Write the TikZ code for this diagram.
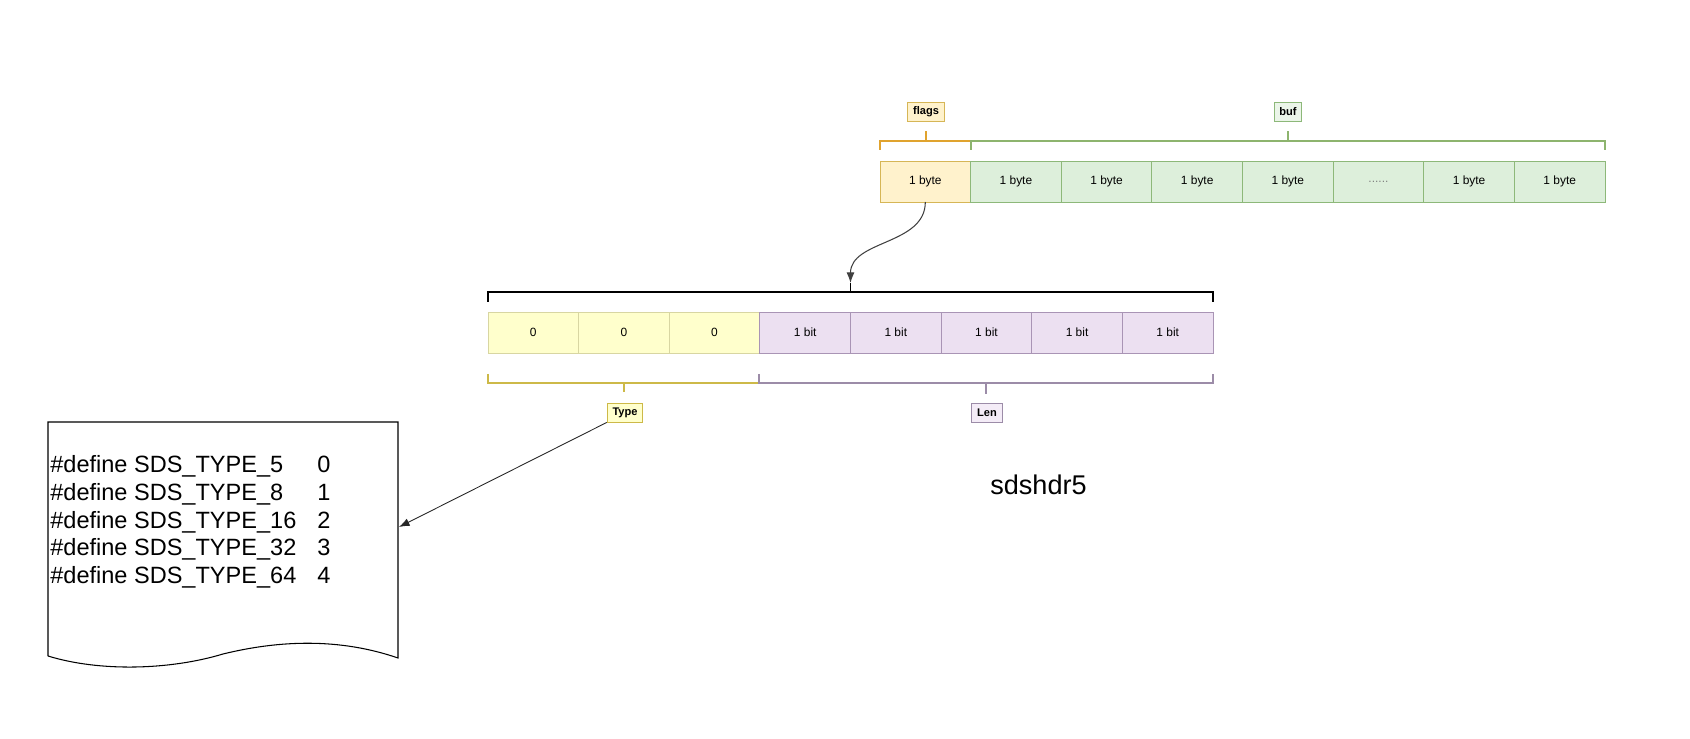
\documentclass[tikz,border=0pt]{standalone}
\usepackage{fontspec}
\setmainfont{Liberation Sans}
\usetikzlibrary{arrows.meta}

\definecolor{flagFill}{HTML}{FFF2CC}
\definecolor{flagLine}{HTML}{D6B656}
\definecolor{flagBr}{HTML}{E0A32E}
\definecolor{bufFill}{HTML}{DDEFDB}
\definecolor{bufLine}{HTML}{8DB879}
\definecolor{bufBr}{HTML}{8DB46E}
\definecolor{zeroFill}{HTML}{FFFFCC}
\definecolor{zeroLine}{HTML}{D8D6A2}
\definecolor{typeBr}{HTML}{CDB948}
\definecolor{bitFill}{HTML}{ECE0F1}
\definecolor{bitLine}{HTML}{A994B5}
\definecolor{lenBr}{HTML}{9C8CA8}

\tikzset{
  cell/.style={draw, line width=0.5pt, minimum width=1.8125cm, minimum height=0.82cm,
    inner sep=0pt, outer sep=0pt, font=\fontsize{6.8}{8}\selectfont},
  flagcell/.style={cell, fill=flagFill, draw=flagLine},
  bufcell/.style={cell, fill=bufFill, draw=bufLine},
  zerocell/.style={cell, fill=zeroFill, draw=zeroLine},
  bitcell/.style={cell, fill=bitFill, draw=bitLine},
  tag/.style={draw, line width=0.5pt, inner xsep=3pt, inner ysep=0pt, minimum height=0.38cm,
    font=\bfseries\fontsize{6.3}{7}\selectfont},
  brace/.style={line width=0.8pt},
  deftext/.style={inner sep=0pt, font=\fontsize{13.4}{16}\selectfont},
}

\begin{document}
\begin{tikzpicture}[x=0.02cm, y=-0.02cm]
    % Fix the page size
    \useasboundingbox (0,0) rectangle (1690,739);

    % Define cell width and row positions
    \def\cellW{90.625}
    \def\topLeft{880}
    \def\topY{181.5}
    \def\botLeft{488}
    \def\botY{332.5}

    % Draw the sdshdr5 bytes
    \node[flagcell] (byte0) at (\topLeft+0.5*\cellW,\topY) {1 byte};
    \foreach \lbl [count=\i] in {1 byte,1 byte,1 byte,1 byte,{\textcolor{gray}{......}},1 byte,1 byte}
        \node[bufcell] (byte\i) at (\topLeft+\i*\cellW+0.5*\cellW,\topY) {\lbl};

    % Draw flags and buf brackets
    \draw[brace, flagBr] (880,150) -- (880,141) -- (971,141);
    \draw[brace, flagBr] (926,141) -- (926,131);
    \draw[brace, bufBr] (971,150) -- (971,141) -- (1605,141) -- (1605,150);
    \draw[brace, bufBr] (1288,141) -- (1288,131);
    \node[tag, fill=flagFill, draw=flagLine] (flags) at (926,111.5) {flags};
    \node[tag, fill=bufFill!60, draw=bufLine] (buf) at (1288,111.5) {buf};

    % Draw the bits of flags
    \foreach \i in {0,1,2}
        \node[zerocell] (bit\i) at (\botLeft+\i*\cellW+0.5*\cellW,\botY) {0};
    \foreach \i in {3,...,7}
        \node[bitcell] (bit\i) at (\botLeft+\i*\cellW+0.5*\cellW,\botY) {1 bit};

    % Bracket over the bits
    \draw[line width=1.1pt] (488,302) -- (488,292) -- (1213,292) -- (1213,302);
    \draw[line width=1.1pt] (850.5,292) -- (850.5,283);
    \coordinate (hook) at (850.5,283);
    \draw[-{Latex[length=6pt,width=4.5pt]}, black!75, line width=0.6pt]
        (byte0.south) to[out=-90,in=90] (hook);

    % Type and Len brackets
    \draw[brace, typeBr] (488,374) -- (488,383) -- (759,383);
    \draw[brace, typeBr] (624,383) -- (624,392);
    \draw[brace, lenBr] (759,374) -- (759,383) -- (1213,383) -- (1213,374);
    \draw[brace, lenBr] (986,383) -- (986,394);
    \node[tag, fill=zeroFill, draw=typeBr] (type) at (625,412.5) {Type};
    \node[tag, fill=bitFill!60, draw=lenBr] (len) at (987,413) {Len};

    % Title
    \node[anchor=base west, inner sep=0pt, font=\fontsize{15.4}{18}\selectfont] (title) at (990,495) {sdshdr5};

    % Document with the type defines
    \draw[line width=0.6pt] (48,656) -- (48,422) -- (398,422) -- (398,658)
        .. controls (340,638) and (280,640) .. (223,654)
        .. controls (170,670) and (100,672) .. (48,656);
    \foreach \name/\val [count=\k] in {5/0,8/1,16/2,32/3,64/4} {
        \node[deftext, anchor=base west] (def\k) at (50,445.5+27.5*\k) {\#define SDS\_TYPE\_\name};
        \node[deftext, anchor=base west] (val\k) at (317,445.5+27.5*\k) {\val};
    }
    \coordinate (docIn) at (399,527);
    \draw[-{Latex[length=6pt,width=4.5pt]}, black!85, line width=0.5pt] (type.south west) -- (docIn);

\end{tikzpicture}
\end{document}
